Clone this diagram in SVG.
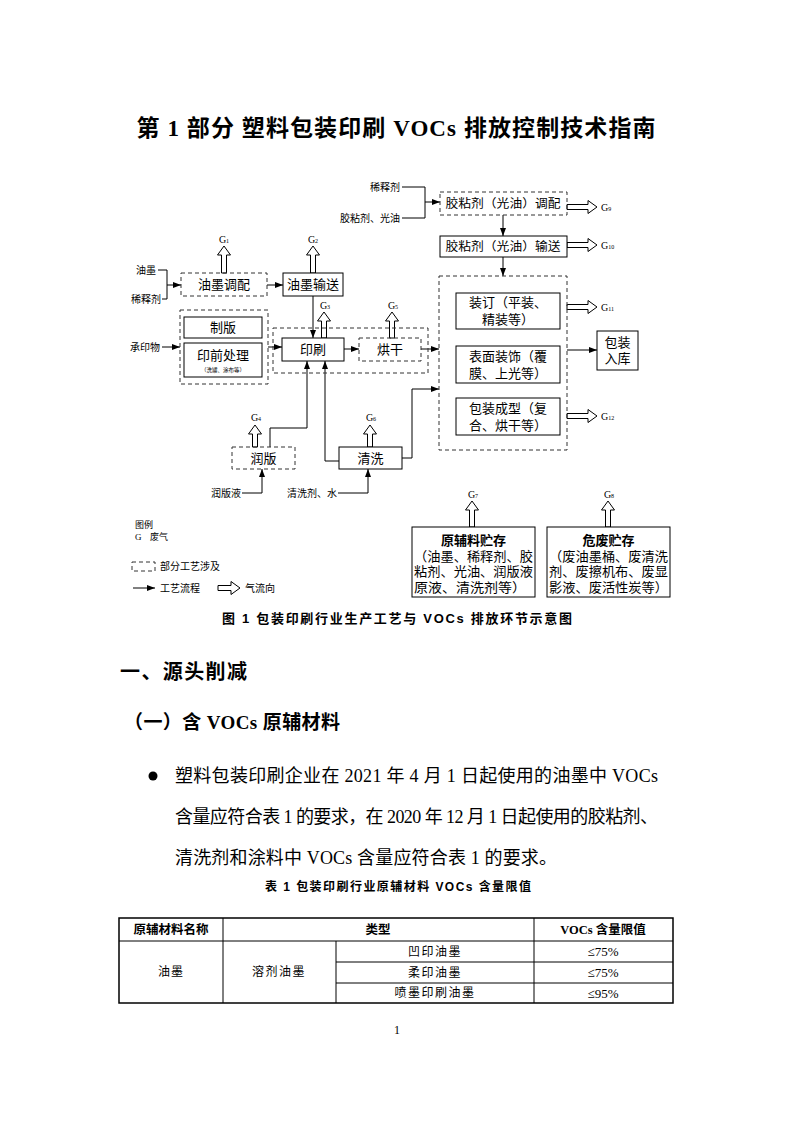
<svg xmlns="http://www.w3.org/2000/svg" width="793" height="1122" viewBox="0 0 793 1122">
<style>
.t{font-family:"Liberation Serif","Noto Sans CJK SC",serif;fill:#000}
.c{text-anchor:middle;dominant-baseline:central}
.l{dominant-baseline:central}
.r{text-anchor:end;dominant-baseline:central}
.f13{font-size:13px}
.f12{font-size:12px}
.f10{font-size:10px}
.f9{font-size:9px}
.bold{font-weight:bold}
.hei{font-family:"Liberation Sans","Noto Sans CJK SC",sans-serif;font-weight:bold;fill:#000}
.box{fill:#fff;stroke:#000;stroke-width:1}
.dbox{fill:none;stroke:#333;stroke-width:1;stroke-dasharray:4 3}
.ln{fill:none;stroke:#000;stroke-width:1}
.hol{fill:#fff;stroke:#000;stroke-width:1}
</style>
<defs>
<marker id="ah" viewBox="0 0 8 6" refX="8" refY="3" markerWidth="8" markerHeight="6" orient="auto" markerUnits="userSpaceOnUse"><path d="M0,0 L8,3 L0,6 Z" fill="#000"/></marker>
</defs>
<rect width="793" height="1122" fill="#fff"/>

<text class="t c bold" x="396" y="128" font-size="23" textLength="519" lengthAdjust="spacing">第 1 部分  塑料包装印刷 VOCs 排放控制技术指南</text>

<!-- connectors -->
<g id="connectors">
<path class="ln" d="M402,187 H425 V218 H402"/>
<path class="ln" d="M425,202 H440" marker-end="url(#ah)"/>
<path class="ln" d="M503,215 V236" marker-end="url(#ah)"/>
<path class="ln" d="M503,257 V276" marker-end="url(#ah)"/>
<path class="ln" d="M158,270 H167 V299 H162"/>
<path class="ln" d="M167,285 H181" marker-end="url(#ah)"/>
<path class="ln" d="M267,285 H283" marker-end="url(#ah)"/>
<path class="ln" d="M313,296 V338" marker-end="url(#ah)"/>
<path class="ln" d="M162,347 H180" marker-end="url(#ah)"/>
<path class="ln" d="M268,347 H282" marker-end="url(#ah)"/>
<path class="ln" d="M344,349 H359" marker-end="url(#ah)"/>
<path class="ln" d="M421,349 H439" marker-end="url(#ah)"/>
<path class="ln" d="M270,447 V428 H307 V361" marker-end="url(#ah)"/>
<path class="ln" d="M339,461 H325 V361" marker-end="url(#ah)"/>
<path class="ln" d="M402,458 H412 V389 H439" marker-end="url(#ah)"/>
<path class="ln" d="M242,493 H262 V469" marker-end="url(#ah)"/>
<path class="ln" d="M338,493 H368 V469" marker-end="url(#ah)"/>
<path class="ln" d="M567,350 H597" marker-end="url(#ah)"/>
<!-- hollow gas arrows -->
<path class="hol" d="M224,246 L230.5,255 L226.5,255 L226.5,273 L221.5,273 L221.5,255 L217.5,255 Z"/>
<path class="hol" d="M313,246 L319.5,255 L315.5,255 L315.5,273 L310.5,273 L310.5,255 L306.5,255 Z"/>
<path class="hol" d="M324,312 L330.5,321 L326.5,321 L326.5,338 L321.5,338 L321.5,321 L317.5,321 Z"/>
<path class="hol" d="M392,312 L398.5,321 L394.5,321 L394.5,338 L389.5,338 L389.5,321 L385.5,321 Z"/>
<path class="hol" d="M255,425 L261.5,434 L257.5,434 L257.5,447 L252.5,447 L252.5,434 L248.5,434 Z"/>
<path class="hol" d="M370,425 L376.5,434 L372.5,434 L372.5,447 L367.5,447 L367.5,434 L363.5,434 Z"/>
<path class="hol" d="M472,501 L478.5,510 L474.5,510 L474.5,527 L469.5,527 L469.5,510 L465.5,510 Z"/>
<path class="hol" d="M608,501 L614.5,510 L610.5,510 L610.5,527 L605.5,527 L605.5,510 L601.5,510 Z"/>
<path class="hol" d="M597,207 L588,200.5 L588,204.5 L567,204.5 L567,209.5 L588,209.5 L588,213.5 Z"/>
<path class="hol" d="M597,245 L588,238.5 L588,242.5 L567,242.5 L567,247.5 L588,247.5 L588,251.5 Z"/>
<path class="hol" d="M597,307 L588,300.5 L588,304.5 L567,304.5 L567,309.5 L588,309.5 L588,313.5 Z"/>
<path class="hol" d="M597,416 L588,409.5 L588,413.5 L567,413.5 L567,418.5 L588,418.5 L588,422.5 Z"/>
</g>

<!-- side labels -->
<g id="labels">
<text class="t r f10" x="400" y="187">稀释剂</text>
<text class="t r f10" x="400" y="218">胶粘剂、光油</text>
<text class="t r f10" x="156" y="270">油墨</text>
<text class="t r f10" x="161" y="299">稀释剂</text>
<text class="t r f10" x="160" y="347">承印物</text>
<text class="t r f10" x="241" y="493">润版液</text>
<text class="t r f10" x="337" y="493">清洗剂、水</text>
<text class="t c f10" x="224" y="239">G<tspan font-size="6" dy="2">1</tspan></text>
<text class="t c f10" x="313" y="239">G<tspan font-size="6" dy="2">2</tspan></text>
<text class="t c f10" x="325" y="305">G<tspan font-size="6" dy="2">3</tspan></text>
<text class="t c f10" x="393" y="305">G<tspan font-size="6" dy="2">5</tspan></text>
<text class="t c f10" x="256" y="417">G<tspan font-size="6" dy="2">4</tspan></text>
<text class="t c f10" x="371" y="417">G<tspan font-size="6" dy="2">6</tspan></text>
<text class="t c f10" x="473" y="494">G<tspan font-size="6" dy="2">7</tspan></text>
<text class="t c f10" x="609" y="494">G<tspan font-size="6" dy="2">8</tspan></text>
<text class="t l f10" x="601" y="207">G<tspan font-size="6" dy="2">9</tspan></text>
<text class="t l f10" x="601" y="245">G<tspan font-size="6" dy="2">10</tspan></text>
<text class="t l f10" x="601" y="307">G<tspan font-size="6" dy="2">11</tspan></text>
<text class="t l f10" x="601" y="416">G<tspan font-size="6" dy="2">12</tspan></text>
</g>

<g id="n-jiaotiaopei">
<rect class="dbox" x="440" y="192" width="127" height="23"/>
<text class="t c f12" x="503" y="203.5" textLength="115" lengthAdjust="spacingAndGlyphs">胶粘剂（光油）调配</text>
</g>
<g id="n-jiaoshusong">
<rect class="box" x="440" y="236" width="127" height="21"/>
<text class="t c f12" x="503" y="246.5" textLength="115" lengthAdjust="spacingAndGlyphs">胶粘剂（光油）输送</text>
</g>
<g id="n-youmotiaopei">
<rect class="dbox" x="181" y="273" width="86" height="23"/>
<text class="t c f13" x="224" y="284.5">油墨调配</text>
</g>
<g id="n-youmoshusong">
<rect class="box" x="283" y="273" width="60" height="23"/>
<text class="t c f13" x="313" y="284.5">油墨输送</text>
</g>
<g id="n-qianchuli">
<rect class="dbox" x="180" y="310" width="88" height="74"/>
<rect class="box" x="184" y="317" width="78" height="21"/>
<text class="t c f13" x="223" y="327.5">制版</text>
<rect class="box" x="184" y="343" width="78" height="34"/>
<text class="t c f13" x="223" y="355">印前处理</text>
<text class="t c" font-size="5.5" x="223" y="370">（洗罐、涂布等）</text>
</g>
<g id="n-yinshuagroup">
<rect class="dbox" x="273" y="328" width="155" height="45"/>
</g>
<g id="n-yinshua">
<rect class="box" x="282" y="338" width="62" height="23"/>
<text class="t c f13" x="313" y="349.5">印刷</text>
</g>
<g id="n-honggan">
<rect class="dbox" x="359" y="338" width="62" height="23"/>
<text class="t c f13" x="390" y="349.5">烘干</text>
</g>
<g id="n-runban">
<rect class="dbox" x="232" y="447" width="63" height="22"/>
<text class="t c f13" x="263.5" y="458">润版</text>
</g>
<g id="n-qingxi">
<rect class="box" x="339" y="447" width="63" height="22"/>
<text class="t c f13" x="370.5" y="458">清洗</text>
</g>
<g id="n-houdao">
<rect class="dbox" x="439" y="276" width="128" height="174"/>
<rect class="box" x="456" y="293" width="104" height="36"/>
<text class="t c f13" x="508" y="302">装订（平装、</text>
<text class="t c f13" x="508" y="319">精装等）</text>
<rect class="box" x="456" y="346" width="104" height="37"/>
<text class="t c f13" x="508" y="356">表面装饰（覆</text>
<text class="t c f13" x="508" y="373">膜、上光等）</text>
<rect class="box" x="456" y="398" width="104" height="37"/>
<text class="t c f13" x="508" y="408">包装成型（复</text>
<text class="t c f13" x="508" y="425">合、烘干等）</text>
</g>
<g id="n-ruku">
<rect class="box" x="597" y="331" width="41" height="39"/>
<text class="t c f13" x="617.5" y="342">包装</text>
<text class="t c f13" x="617.5" y="358">入库</text>
</g>
<g id="n-yuanfuliao">
<rect class="box" x="412" y="527" width="123" height="70"/>
<text class="t c f13 bold" x="473.5" y="540">原辅料贮存</text>
<text class="t l f13" x="414" y="556" textLength="119" lengthAdjust="spacingAndGlyphs">（油墨、稀释剂、胶</text>
<text class="t l f13" x="414" y="571" textLength="119" lengthAdjust="spacingAndGlyphs">粘剂、光油、润版液</text>
<text class="t l f13" x="414" y="587" textLength="112" lengthAdjust="spacingAndGlyphs">原液、清洗剂等）</text>
</g>
<g id="n-weifei">
<rect class="box" x="547" y="527" width="123" height="70"/>
<text class="t c f13 bold" x="608.5" y="540">危废贮存</text>
<text class="t l f13" x="549" y="556" textLength="119" lengthAdjust="spacingAndGlyphs">（废油墨桶、废清洗</text>
<text class="t l f13" x="549" y="571" textLength="119" lengthAdjust="spacingAndGlyphs">剂、废擦机布、废显</text>
<text class="t l f13" x="549" y="587" textLength="119" lengthAdjust="spacingAndGlyphs">影液、废活性炭等）</text>
</g>

<g id="legend">
<text class="t l f9" x="135" y="525">图例</text>
<text class="t l f9" x="135" y="537">G</text>
<text class="t l f9" x="150" y="537">废气</text>
<rect class="dbox" x="132" y="562" width="23" height="9"/>
<text class="t l f10" x="160" y="566">部分工艺涉及</text>
<path class="ln" d="M133,588 H155" marker-end="url(#ah)"/>
<text class="t l f10" x="160" y="588">工艺流程</text>
<path class="hol" d="M240,588 L231,581.5 L231,585.5 L218,585.5 L218,590.5 L231,590.5 L231,594.5 Z"/>
<text class="t l f10" x="245" y="588">气流向</text>
</g>

<text class="hei l" font-size="13" x="222" y="618" textLength="350" lengthAdjust="spacing">图 1   包装印刷行业生产工艺与 VOCs 排放环节示意图</text>

<text class="hei l" font-size="20" x="120" y="672" textLength="127" lengthAdjust="spacing">一、源头削减</text>
<text class="t l bold" font-size="19" x="124" y="722" textLength="216" lengthAdjust="spacing">（一）含 VOCs 原辅材料</text>

<circle cx="153" cy="776" r="4.5" fill="#000"/>
<text class="t l" font-size="18" x="175" y="776" textLength="483" lengthAdjust="spacing">塑料包装印刷企业在 2021 年 4 月 1 日起使用的油墨中 VOCs</text>
<text class="t l" font-size="18" x="175" y="817" textLength="483" lengthAdjust="spacing">含量应符合表 1 的要求，在 2020 年 12 月 1 日起使用的胶粘剂、</text>
<text class="t l" font-size="18" x="175" y="858" textLength="382" lengthAdjust="spacing">清洗剂和涂料中 VOCs 含量应符合表 1 的要求。</text>

<text class="hei c" font-size="12" x="398" y="887" textLength="266" lengthAdjust="spacing">表 1   包装印刷行业原辅材料 VOCs 含量限值</text>

<g id="table">
<rect x="119" y="918" width="554" height="85" fill="none" stroke="#000" stroke-width="1.5"/>
<path class="ln" d="M119,941 H673 M223,918 V1003 M534,918 V1003 M336,941 V1003 M336,962 H673 M336,983 H673"/>
<text class="hei c" font-size="12.5" x="171" y="929.5">原辅材料名称</text>
<text class="hei c" font-size="12.5" x="378" y="929.5">类型</text>
<text class="t c bold" font-size="12.5" x="603" y="929.5">VOCs 含量限值</text>
<text class="t c f12" x="171" y="972" letter-spacing="1">油墨</text>
<text class="t c f12" x="279" y="972" letter-spacing="1.5">溶剂油墨</text>
<text class="t c f12" x="435" y="951.5" letter-spacing="1.5">凹印油墨</text>
<text class="t c f12" x="435" y="972.5" letter-spacing="1.5">柔印油墨</text>
<text class="t c f12" x="435" y="993" letter-spacing="1.5">喷墨印刷油墨</text>
<text class="t c f13" x="603" y="951.5">≤75%</text>
<text class="t c f13" x="603" y="972.5">≤75%</text>
<text class="t c f13" x="603" y="993">≤95%</text>
</g>

<text class="t c f12" x="397" y="1030">1</text>
</svg>
